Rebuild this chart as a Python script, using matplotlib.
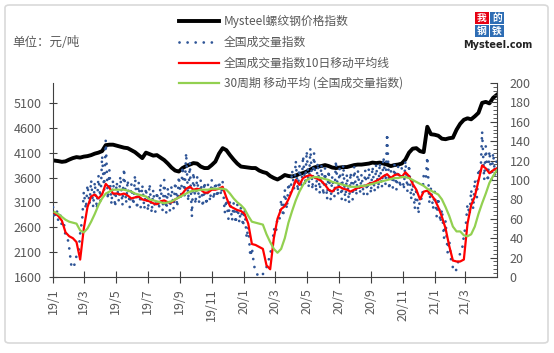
import pandas as pd
import matplotlib
matplotlib.use('Agg')
import matplotlib.pyplot as plt
import matplotlib.dates as mdates
from matplotlib.lines import Line2D
from matplotlib.patches import FancyBboxPatch, Rectangle
from matplotlib.ticker import MultipleLocator, FuncFormatter

plt.rcParams['font.family'] = ['Noto Sans CJK SC', 'DejaVu Sans']

# Weekly dates (Fridays) for the price index and the moving averages
week_dates = pd.date_range('2019-01-04', '2021-04-30', freq='W-FRI')
# Turnover index read twice a week (Tue / Fri)
vol_dates = pd.date_range('2019-01-01', '2021-04-30', freq='W-TUE').union(week_dates)

# Mysteel rebar price index (left axis, yuan/ton)
price = [3940, 3930, 3915, 3925, 3960, 3990, 4010, 4000, 4020, 4030,
         4050, 4080, 4100, 4130, 4250, 4260, 4260, 4240, 4220, 4200,
         4190, 4150, 4110, 4050, 3990, 4100, 4070, 4040, 4050, 4000,
         3950, 3880, 3800, 3740, 3720, 3790, 3830, 3860, 3890, 3880,
         3820, 3790, 3790, 3850, 3920, 4080, 4190, 4150, 4050, 3960,
         3880, 3820, 3810, 3800, 3790, 3790, 3740, 3710, 3690, 3630,
         3590, 3560, 3600, 3650, 3630, 3620, 3640, 3670, 3690, 3720,
         3760, 3800, 3820, 3830, 3850, 3830, 3800, 3790, 3800, 3810,
         3810, 3830, 3850, 3860, 3860, 3870, 3880, 3900, 3890, 3900,
         3880, 3860, 3830, 3850, 3860, 3880, 3960, 4100, 4180, 4190,
         4130, 4110, 4620, 4470, 4460, 4440, 4380, 4370, 4390, 4400,
         4560, 4680, 4760, 4790, 4770, 4830, 4900, 5100, 5120, 5090,
         5200, 5260]

# National turnover index (right axis), Tue / Fri pairs
volume = [72, 60, 70, 58, 64, 52, 55, 42, 40, 30, 12, 9, 14, 22, 25, 45, 60, 88, 70, 95,
          75, 100, 72, 98, 70, 105, 78, 125, 90, 141, 80, 110, 75, 100, 72, 98, 78, 104, 74, 112,
          76, 100, 72, 96, 74, 105, 70, 98, 72, 95, 70, 92, 68, 96, 66, 90, 67, 88, 70, 96,
          68, 100, 66, 92, 68, 94, 70, 98, 72, 104, 80, 114, 84, 128, 78, 118, 62, 108, 75, 104,
          76, 100, 72, 98, 74, 96, 78, 100, 80, 98, 82, 99, 84, 98, 66, 80, 60, 79, 58, 76,
          55, 75, 56, 72, 52, 70, 40, 52, 21, 30, 12, 6, 2, 0, 1, 3, 5, 10, 17, 25,
          30, 50, 45, 62, 60, 80, 62, 90, 70, 97, 86, 110, 90, 120, 88, 115, 92, 125, 94, 130,
          92, 133, 90, 128, 88, 118, 86, 116, 84, 112, 80, 110, 79, 104, 82, 120, 84, 112, 80, 116,
          78, 106, 76, 108, 80, 114, 84, 110, 86, 106, 84, 110, 85, 112, 86, 114, 88, 116, 90, 118,
          92, 124, 95, 148, 90, 110, 92, 116, 90, 114, 92, 112, 90, 120, 88, 116, 80, 100, 70, 92,
          65, 82, 80, 104, 100, 124, 76, 92, 70, 88, 62, 82, 56, 70, 40, 58, 25, 38, 15, 10,
          5, 8, 18, 25, 30, 42, 55, 75, 64, 90, 70, 100, 82, 112, 105, 150, 100, 135, 98, 130,
          100, 128, 104, 122]

# 10-day moving average of the turnover index
ma10 = [66, 63, 58, 46, 42, 40, 36, 18, 50, 72,
        83, 85, 81, 85, 96, 92, 86, 86, 85, 86,
        84, 81, 82, 83, 80, 79, 78, 76, 75, 78,
        79, 77, 77, 80, 82, 86, 91, 93, 90, 91,
        90, 87, 87, 90, 90, 91, 93, 82, 73, 71,
        69, 68, 65, 55, 34, 33, 31, 29, 12, 8,
        40, 60, 70, 73, 80, 89, 100, 95, 102, 104,
        105, 103, 101, 99, 95, 90, 88, 92, 93, 91,
        90, 88, 90, 92, 93, 94, 96, 97, 99, 101,
        104, 106, 102, 105, 106, 103, 108, 104, 96, 90,
        80, 88, 89, 85, 80, 72, 62, 50, 32, 17,
        16, 16, 18, 55, 74, 83, 99, 115, 112, 107,
        110, 112]

# 30-period moving average of the turnover index
ma30 = [67, 65, 62, 59, 57, 56, 55, 48, 46, 50,
        57, 65, 74, 81, 86, 88, 90, 90, 90, 90,
        89, 88, 86, 85, 84, 83, 80, 79, 78, 77,
        76, 77, 78, 80, 82, 84, 86, 88, 89, 89,
        90, 90, 90, 91, 91, 91, 91, 90, 86, 81,
        77, 74, 70, 63, 57, 56, 55, 54, 44, 36,
        29, 25, 29, 40, 56, 68, 79, 88, 95, 100,
        102, 103, 103, 102, 101, 100, 98, 97, 96, 95,
        94, 93, 93, 93, 94, 94, 95, 96, 97, 98,
        99, 100, 101, 102, 102, 103, 103, 102, 100, 98,
        96, 94, 91, 89, 87, 85, 80, 72, 63, 52,
        47, 47, 43, 42, 44, 52, 65, 76, 86, 97,
        104, 110]

labels = ['Mysteel螺纹钢价格指数', '全国成交量指数',
          '全国成交量指数10日移动平均线', '30周期 移动平均 (全国成交量指数)']

grey = '#595959'
axis_col = '#404040'
dots = dict(color='#2f5597', lw=2.0, linestyle=(0, (0.01, 2.9)), dash_capstyle='round')

fig = plt.figure(figsize=(5.54, 3.53), dpi=100)
ax = fig.add_axes([0.0957, 0.2153, 0.8014, 0.5496])
ax2 = ax.twinx()

ax.plot(week_dates, price, color='black', lw=2.8)
ax2.plot(vol_dates, volume, **dots)
ax2.plot(week_dates, ma10, color='#ff0000', lw=1.6)
ax2.plot(week_dates, ma30, color='#92d050', lw=1.6)

# axes
ax.set_xlim(pd.Timestamp('2019-01-01'), pd.Timestamp('2021-04-30 12:00'))
ax.set_ylim(1600, 5500)
ax.set_yticks(range(1600, 5101, 500))
ax2.set_ylim(0, 200)
ax2.yaxis.set_major_locator(MultipleLocator(20))
ax2.yaxis.set_minor_locator(MultipleLocator(4))

ax.xaxis.set_major_locator(mdates.MonthLocator(bymonth=[1, 3, 5, 7, 9, 11]))
ax.xaxis.set_major_formatter(FuncFormatter(
    lambda v, pos: '%d/%d' % (mdates.num2date(v).year % 100, mdates.num2date(v).month)))

for s in ['top', 'right']:
    ax.spines[s].set_visible(False)
for s in ['top', 'left', 'bottom']:
    ax2.spines[s].set_visible(False)
for a in (ax, ax2):
    for s in a.spines.values():
        s.set_color(axis_col)

ax.tick_params(axis='y', direction='inout', length=6, color=axis_col, labelsize=9, labelcolor=grey, pad=5)
ax.tick_params(axis='x', direction='inout', length=8, color=axis_col, labelsize=9, labelcolor=grey,
               pad=4, labelrotation=90)
ax2.tick_params(axis='y', which='major', direction='in', length=5, color=axis_col, labelsize=9,
                labelcolor=grey, pad=9)
ax2.tick_params(axis='y', which='minor', direction='in', length=3, color=axis_col)

# legend, drawn by hand at the top
handles = [dict(color='black', lw=2.8), dots,
           dict(color='#ff0000', lw=1.6), dict(color='#92d050', lw=1.6)]
rows = [0.940, 0.881, 0.822, 0.765]
for h, lab, y in zip(handles, labels, rows):
    fig.add_artist(Line2D([0.323, 0.395], [y, y], transform=fig.transFigure, **h))
    fig.text(0.404, y, lab, fontsize=8.5, color=grey, va='center', ha='left')

fig.text(12 / 554, 1 - 42 / 353, '单位：元/吨', fontsize=9, color=grey, va='center', ha='left')

# Mysteel logo
W, H = 554, 353
for ch, x0, y0, c in [('我', 475, 12, '#e60012'), ('的', 490, 12, '#2e6db4'),
                      ('钢', 475, 25, '#2e6db4'), ('铁', 490, 25, '#2e6db4')]:
    fig.add_artist(Rectangle((x0 / W, 1 - (y0 + 12) / H), 14 / W, 12 / H,
                             transform=fig.transFigure, color=c, lw=0))
    fig.text((x0 + 7) / W, 1 - (y0 + 6) / H, ch, fontsize=7, color='white',
             ha='center', va='center', fontweight='bold')
fig.text(498 / W, 1 - 45 / H, 'Mysteel.com', fontsize=7, fontweight='bold', color='#222222',
         ha='center', va='center', family='DejaVu Sans')

# light frame around the chart
fig.add_artist(FancyBboxPatch((5 / W, 1 - 343 / H), 543 / W, 338 / H,
                              boxstyle='round,pad=0,rounding_size=0.008',
                              transform=fig.transFigure, fill=False, ec='#d9d9d9', lw=1.2))

fig.savefig('out.png', dpi=100)
